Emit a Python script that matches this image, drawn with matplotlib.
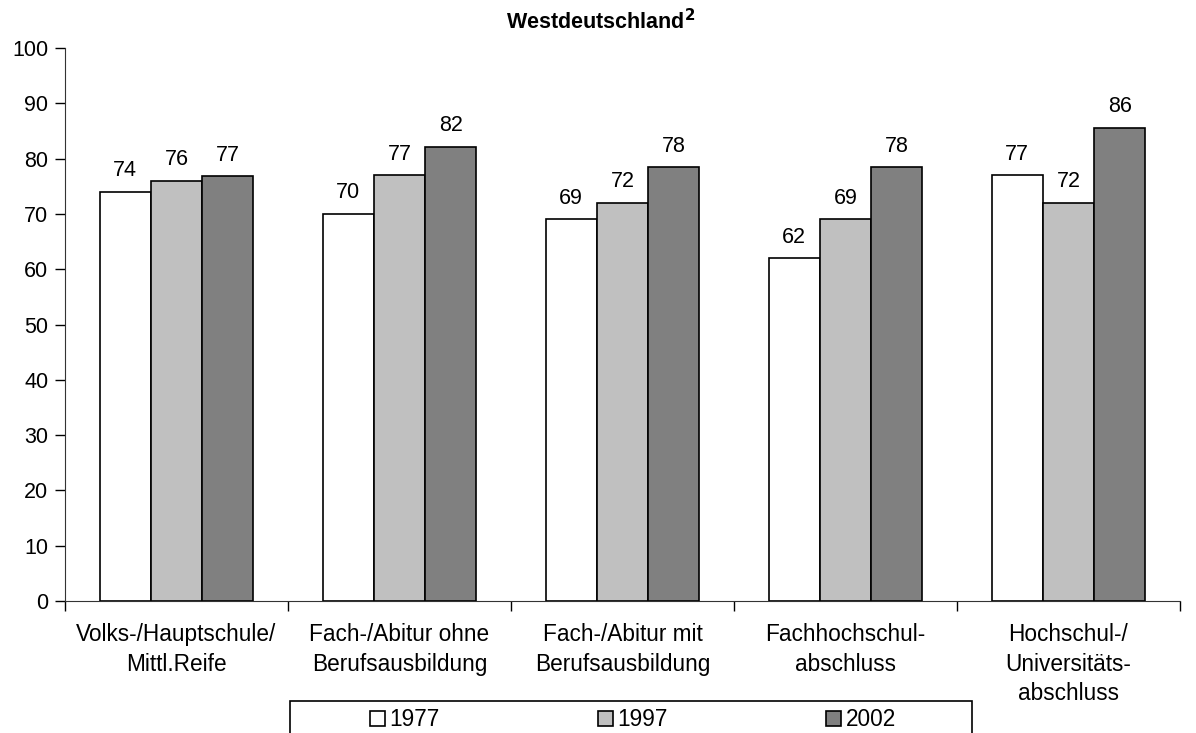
import matplotlib.pyplot as plt
from matplotlib.patches import Rectangle
import numpy as np

plt.rcParams['font.family'] = ['Liberation Sans', 'DejaVu Sans']

categories = ['Volks-/Hauptschule/\nMittl.Reife',
              'Fach-/Abitur ohne\nBerufsausbildung',
              'Fach-/Abitur mit\nBerufsausbildung',
              'Fachhochschul-\nabschluss',
              'Hochschul-/\nUniversitäts-\nabschluss']
years = ['1977', '1997', '2002']
v1977 = [74.0, 70.0, 69.0, 62.0, 77.0]
v1997 = [76.0, 77.0, 72.0, 69.0, 72.0]
v2002 = [76.8, 82.1, 78.4, 78.4, 85.6]
colors = ['white', '#c0c0c0', '#808080']

fig = plt.figure(figsize=(11.96, 7.33), dpi=100)
ax = fig.add_axes([65/1196, 1-601/733, 1115/1196, 553/733])

x = np.arange(len(categories))
w = 0.23
for i, vals in enumerate([v1977, v1997, v2002]):
    bars = ax.bar(x + (i-1)*w, vals, w, color=colors[i], edgecolor='black',
                  linewidth=1.2, label=years[i])
    for b, v in zip(bars, vals):
        ax.text(b.get_x() + b.get_width()/2, v + 1.9, f'{v:.0f}',
                ha='center', va='bottom', fontsize=15.5)

ax.set_xlim(-0.5, len(categories) - 0.5)
ax.set_ylim(0, 100)
ax.set_yticks(range(0, 101, 10))
ax.tick_params(axis='y', labelsize=15.5, direction='out', length=7, width=1, pad=5)
ax.set_xticks(np.arange(-0.5, len(categories), 1.0))
ax.set_xticklabels([])
ax.tick_params(axis='x', direction='out', length=7, width=1)
for xi, c in zip(x, categories):
    ax.text(xi, -4.0, c, ha='center', va='top', fontsize=16.3,
            linespacing=1.37)
for s in ['top', 'right']:
    ax.spines[s].set_visible(False)
ax.spines['left'].set_color('#333333')
ax.spines['bottom'].set_color('#333333')

fig.text(601/1196, 1-22/733, 'Westdeutschland$^{\\mathbf{2}}$', ha='center', va='center',
         fontsize=15.5, fontweight='bold')

# legend box, cut off at the bottom edge like the original
fig.patches.append(Rectangle((290/1196, -0.02), 682/1196, 32/733 + 0.02,
                             transform=fig.transFigure, facecolor='white',
                             edgecolor='black', linewidth=1.2))
leg = fig.legend(loc='center left', bbox_to_anchor=(359/1196, 1-720/733), ncol=3,
                 frameon=False, fontsize=16.3, handlelength=0.65, handleheight=0.65,
                 handletextpad=0.2, columnspacing=7.0, borderpad=0)

fig.savefig('out.png', dpi=100)
